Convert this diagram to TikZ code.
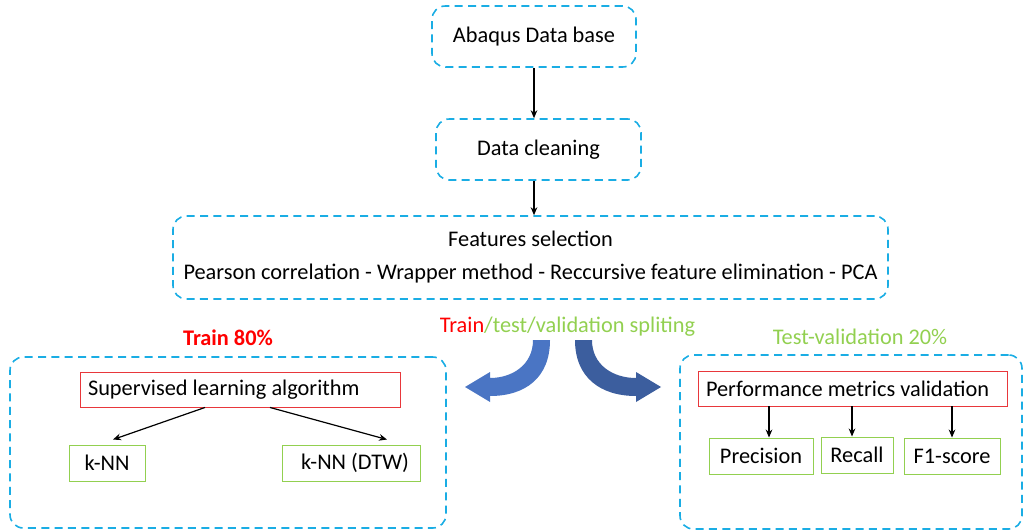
\documentclass[tikz,border=0pt]{standalone}
\usepackage{fontspec}
\setmainfont{Carlito}
\usetikzlibrary{arrows.meta}
\definecolor{dashblue}{HTML}{1AADE4}
\definecolor{boxred}{HTML}{E8373B}
\definecolor{boxgreen}{HTML}{92D050}
\definecolor{txtred}{HTML}{FF0000}
\definecolor{txtgreen}{HTML}{92D050}
\definecolor{arrowA}{HTML}{4A75C4}
\definecolor{arrowB}{HTML}{3C5E9E}
\tikzset{
  stage/.style={draw=dashblue, line width=1.2pt, dash pattern=on 6pt off 4pt,
    rounded corners=10pt, inner sep=0pt, align=center},
  redbox/.style={draw=boxred, line width=0.7pt, inner sep=0pt},
  greenbox/.style={draw=boxgreen, line width=0.7pt, inner sep=0pt},
  arr/.style={line width=0.9pt, -{Stealth[length=6pt,width=5pt]}},
  lbl/.style={inner sep=0pt}
}
\begin{document}
\begin{tikzpicture}[x=0.75pt, y=-0.75pt, font=\fontsize{16.75}{20}\selectfont]
\useasboundingbox (0,0) rectangle (1024,531);

% pipeline stages
\node[stage, minimum width=204*0.75pt, minimum height=61*0.75pt] (abaqus) at (534,36.5) {\raisebox{-2pt}{Abaqus Data base}};
\node[stage, minimum width=205*0.75pt, minimum height=61*0.75pt] (clean) at (538.5,149.5) {Data cleaning};
\node[stage, minimum width=715*0.75pt, minimum height=83*0.75pt,
      font=\fontsize{16.75}{24.75}\selectfont] (feat) at (530.5,257.5)
  {Features selection\\Pearson correlation - Wrapper method - Reccursive feature elimination - PCA};

\draw[arr] (abaqus.south) -- (abaqus.south |- clean.north);
\draw[arr] (abaqus.south |- clean.south) -- (abaqus.south |- feat.north);

% split labels
\node[lbl] (split) at (567.5,327) {\textcolor{txtred}{Train}\textcolor{txtgreen}{/test/validation spliting}};
\node[lbl, text=txtred, font=\fontsize{16.75}{20}\selectfont\bfseries] (trainlbl) at (228,338) {Train 80\%};
\node[lbl, text=txtgreen] (testlbl) at (860,337) {Test-validation 20\%};

% curved split arrows
\fill[arrowA] (533,340) -- (550,340) .. controls (550,378) and (525,396) .. (490,396)
  -- (490,402) -- (465,387) -- (490,372) -- (490,378)
  .. controls (512,378) and (533,365) .. (533,340) -- cycle;
\fill[arrowB] (575,340) -- (592,340) .. controls (592,365) and (613,378) .. (636,378)
  -- (636,372) -- (661,387) -- (636,402) -- (636,396)
  .. controls (601,396) and (575,378) .. (575,340) -- cycle;

% training branch
\node[stage, minimum width=436*0.75pt, minimum height=171*0.75pt] (train) at (228,442.5) {};
\node[redbox, minimum width=320*0.75pt, minimum height=35*0.75pt] (sup) at (240,389.5)
  {\makebox[228pt][l]{Supervised learning algorithm}};
\node[greenbox, minimum width=76*0.75pt, minimum height=36*0.75pt] (knn) at (107,463) {k-NN};
\node[greenbox, minimum width=138*0.75pt, minimum height=36*0.75pt] (kdtw) at (351,463) {\hspace{6pt}k-NN (DTW)};
\draw[arr] ([xshift=-26.25pt]sup.south) -- ([xshift=4.5pt,yshift=3.75pt]knn.north);
\draw[arr] ([xshift=22.5pt]sup.south) -- ([xshift=27pt,yshift=3.75pt]kdtw.north);

% test-validation branch
\node[stage, minimum width=342*0.75pt, minimum height=174*0.75pt] (test) at (851,442) {};
\node[redbox, minimum width=309*0.75pt, minimum height=35*0.75pt] (perf) at (852.5,388.5)
  {\makebox[219.75pt][l]{Performance metrics validation}};
\node[greenbox, minimum width=104*0.75pt, minimum height=36*0.75pt] (prec) at (761,456) {Precision};
\node[greenbox, minimum width=72*0.75pt, minimum height=36*0.75pt] (rec) at (857,455) {Recall};
\node[greenbox, minimum width=96*0.75pt, minimum height=36*0.75pt] (f1) at (952,456) {F1-score};
\draw[arr] ([xshift=6pt]prec.north |- perf.south) -- ([xshift=6pt]prec.north);
\draw[arr] ([xshift=-3.75pt]rec.north |- perf.south) -- ([xshift=-3.75pt]rec.north);
\draw[arr] (f1.north |- perf.south) -- (f1.north);
\end{tikzpicture}
\end{document}
